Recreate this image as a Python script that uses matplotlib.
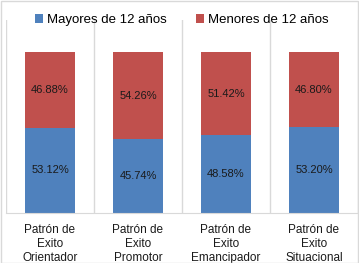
import numpy as np
import matplotlib.pyplot as plt
from matplotlib.patches import Rectangle

# datos
categorias = ['Patrón de\nExito\nOrientador', 'Patrón de\nExito\nPromotor',
              'Patrón de\nExito\nEmancipador', 'Patrón de\nExito\nSituacional']
mayores = [53.12, 45.74, 48.58, 53.20]
menores = [46.88, 54.26, 51.42, 46.80]
series = ['Mayores de 12 años', 'Menores de 12 años']

plt.rcParams['font.family'] = ['Liberation Sans', 'DejaVu Sans']

fig = plt.figure(figsize=(3.59, 2.63), dpi=100)
ax = fig.add_axes([6/359, 50/263, 352/359, 193/263])

x = np.arange(len(categorias))
azul = '#4F81BD'
rojo = '#C0504D'
b1 = ax.bar(x, mayores, width=0.57, color=azul, label=series[0])
b2 = ax.bar(x, menores, width=0.57, bottom=mayores, color=rojo, label=series[1])

for i in range(len(x)):
    ax.text(x[i], mayores[i]/2, '%.2f%%' % mayores[i], ha='center', va='center', fontsize=8, color='#1a1a1a')
    ax.text(x[i], mayores[i] + menores[i]/2, '%.2f%%' % menores[i], ha='center', va='center', fontsize=8, color='#1a1a1a')

# lineas verticales entre categorias
for xv in np.arange(-0.5, len(x), 1.0):
    ax.axvline(xv, color='#D9D9D9', lw=1, zorder=0)

ax.set_xlim(-0.5, len(x) - 0.5)
ax.set_ylim(0, 120)
ax.set_yticks([])
ax.set_xticks(x)
ax.set_xticklabels(categorias, fontsize=8.5, linespacing=1.2, color='#1a1a1a')
ax.tick_params(axis='x', length=0, pad=8)
for s in ['top', 'left', 'right']:
    ax.spines[s].set_visible(False)
ax.spines['bottom'].set_color('#D9D9D9')

ax.legend(loc='center', bbox_to_anchor=(0.5, 1.0), ncol=2, frameon=False,
          fontsize=9.5, handlelength=0.6, handleheight=0.6, handletextpad=0.3,
          columnspacing=2.2, borderaxespad=0)

fig.patches.append(Rectangle((0.5/359, 0.5/263), 357.5/359, 261.5/263, transform=fig.transFigure,
                             fill=False, edgecolor='#D9D9D9', lw=1))

plt.savefig('out.png', dpi=100)
